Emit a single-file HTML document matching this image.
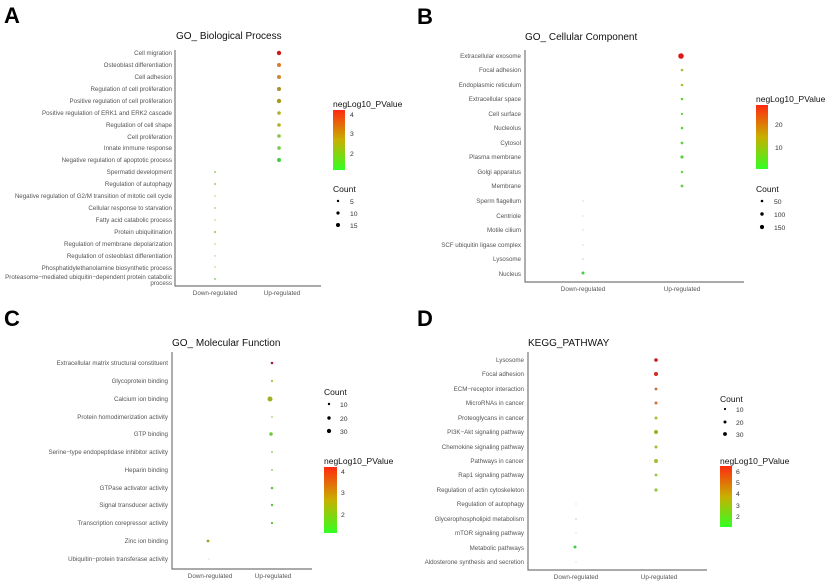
<!DOCTYPE html>
<html><head><meta charset="utf-8"><style>
body{margin:0;background:#fff}
svg{display:block;font-family:"Liberation Sans",sans-serif}
.l{font-size:6.2px;fill:#555;text-anchor:end}
.x{font-size:6.3px;fill:#555;text-anchor:middle}
.t{font-size:10px;fill:#111}
.lg{font-size:8.5px;fill:#111}
.lt{font-size:6.8px;fill:#333}
.P{font-size:22px;font-weight:bold;fill:#000}
</style></head><body>
<svg width="825" height="584" viewBox="0 0 825 584" xmlns="http://www.w3.org/2000/svg">
<defs>
<linearGradient id="g" x1="0" y1="1" x2="0" y2="0">
<stop offset="0" stop-color="#33ff22"/><stop offset="0.5" stop-color="#c8b000"/><stop offset="1" stop-color="#ff2a10"/>
</linearGradient>
</defs>
<g stroke="#777" stroke-width="1.2" fill="none">
<path d="M175 50V286H321"/><path d="M525 50V282H744"/><path d="M172 352V569H312"/><path d="M528 352V570H707"/>
</g>
<text class="P" x="4" y="23">A</text><text class="P" x="417" y="24">B</text>
<text class="P" x="4" y="326">C</text><text class="P" x="417" y="326">D</text>
<text class="t" x="176" y="39">GO_ Biological Process</text>
<text class="t" x="525" y="40">GO_ Cellular Component</text>
<text class="t" x="172" y="346">GO_ Molecular Function</text>
<text class="t" x="528" y="346">KEGG_PATHWAY</text>
<g id="A">
<text class="l" x="172" y="55">Cell migration</text>
<text class="l" x="172" y="67">Osteoblast differentiation</text>
<text class="l" x="172" y="79">Cell adhesion</text>
<text class="l" x="172" y="91">Regulation of cell proliferation</text>
<text class="l" x="172" y="103">Positive regulation of cell proliferation</text>
<text class="l" x="172" y="115">Positive regulation of ERK1 and ERK2 cascade</text>
<text class="l" x="172" y="127">Regulation of cell shape</text>
<text class="l" x="172" y="139">Cell proliferation</text>
<text class="l" x="172" y="150">Innate immune response</text>
<text class="l" x="172" y="162">Negative regulation of apoptotic process</text>
<text class="l" x="172" y="174">Spermatid development</text>
<text class="l" x="172" y="186">Regulation of autophagy</text>
<text class="l" x="172" y="198">Negative regulation of G2/M transition of mitotic cell cycle</text>
<text class="l" x="172" y="210">Cellular response to starvation</text>
<text class="l" x="172" y="222">Fatty acid catabolic process</text>
<text class="l" x="172" y="234">Protein ubiquitination</text>
<text class="l" x="172" y="246">Regulation of membrane depolarization</text>
<text class="l" x="172" y="258">Regulation of osteoblast differentiation</text>
<text class="l" x="172" y="270">Phosphatidylethanolamine biosynthetic process</text>
<text class="l" x="172" y="279">Proteasome−mediated ubiquitin−dependent protein catabolic</text>
<text class="l" x="172" y="285">process</text>
<circle cx="279" cy="53" r="2.2" fill="#cc1a1a"/><circle cx="279" cy="65" r="2" fill="#d97a2a"/>
<circle cx="279" cy="77" r="2" fill="#d08a30"/><circle cx="279" cy="89" r="2" fill="#a8902a"/>
<circle cx="279" cy="101" r="2.2" fill="#a89a1a"/><circle cx="279" cy="113" r="1.8" fill="#b0b020"/>
<circle cx="279" cy="125" r="1.8" fill="#b8b020"/><circle cx="279" cy="136" r="1.8" fill="#90c040"/>
<circle cx="279" cy="148" r="1.8" fill="#70d040"/><circle cx="279" cy="160" r="2" fill="#40d040"/>
<g fill="#9bd070"><circle cx="215" cy="172" r="1"/><circle cx="215" cy="184" r="1"/><circle cx="215" cy="196" r="0.7"/><circle cx="215" cy="208" r="0.9"/><circle cx="215" cy="220" r="0.7"/><circle cx="215" cy="232" r="1.1"/><circle cx="215" cy="244" r="0.7"/><circle cx="215" cy="256" r="0.7"/><circle cx="215" cy="267" r="0.7"/><circle cx="215" cy="279" r="1"/></g>
<text class="x" x="215" y="295">Down-regulated</text><text class="x" x="282" y="295">Up-regulated</text>
<text class="lg" x="333" y="107">negLog10_PValue</text>
<rect x="333" y="110" width="12" height="60" fill="url(#g)"/>
<text class="lt" x="350" y="117">4</text><text class="lt" x="350" y="136">3</text><text class="lt" x="350" y="156">2</text>
<text class="lg" x="333" y="192">Count</text>
<circle cx="338" cy="201" r="1.2"/><circle cx="338" cy="213" r="1.6"/><circle cx="338" cy="225" r="2"/>
<text class="lt" x="350" y="204">5</text><text class="lt" x="350" y="216">10</text><text class="lt" x="350" y="228">15</text>
</g>
<g id="B">
<text class="l" x="521" y="58">Extracellular exosome</text>
<text class="l" x="521" y="72">Focal adhesion</text>
<text class="l" x="521" y="87">Endoplasmic reticulum</text>
<text class="l" x="521" y="101">Extracellular space</text>
<text class="l" x="521" y="116">Cell surface</text>
<text class="l" x="521" y="130">Nucleolus</text>
<text class="l" x="521" y="145">Cytosol</text>
<text class="l" x="521" y="159">Plasma membrane</text>
<text class="l" x="521" y="174">Golgi apparatus</text>
<text class="l" x="521" y="188">Membrane</text>
<text class="l" x="521" y="203">Sperm flagellum</text>
<text class="l" x="521" y="218">Centriole</text>
<text class="l" x="521" y="232">Motile cilium</text>
<text class="l" x="521" y="247">SCF ubiquitin ligase complex</text>
<text class="l" x="521" y="261">Lysosome</text>
<text class="l" x="521" y="276">Nucleus</text>
<circle cx="681" cy="56" r="2.8" fill="#dd1a1a"/>
<g fill="#a0c030"><circle cx="682" cy="70" r="1.3"/><circle cx="682" cy="85" r="1.3"/></g>
<g fill="#60d040"><circle cx="682" cy="99" r="1.3"/><circle cx="682" cy="114" r="1.1"/><circle cx="682" cy="128" r="1.3"/><circle cx="682" cy="143" r="1.4"/><circle cx="682" cy="157" r="1.6"/><circle cx="682" cy="172" r="1.2"/><circle cx="682" cy="186" r="1.4"/></g>
<g fill="#a8e090"><circle cx="583" cy="201" r="0.6"/><circle cx="583" cy="216" r="0.6"/><circle cx="583" cy="230" r="0.6"/><circle cx="583" cy="245" r="0.6"/><circle cx="583" cy="259" r="0.7"/></g>
<circle cx="583" cy="273" r="1.5" fill="#40d040"/>
<text class="x" x="583" y="291">Down-regulated</text><text class="x" x="682" y="291">Up-regulated</text>
<text class="lg" x="756" y="102">negLog10_PValue</text>
<rect x="756" y="105" width="12" height="64" fill="url(#g)"/>
<text class="lt" x="775" y="127">20</text><text class="lt" x="775" y="150">10</text>
<text class="lg" x="756" y="192">Count</text>
<circle cx="762" cy="201" r="1.3"/><circle cx="762" cy="214" r="1.7"/><circle cx="762" cy="227" r="2.1"/>
<text class="lt" x="774" y="204">50</text><text class="lt" x="774" y="217">100</text><text class="lt" x="774" y="230">150</text>
</g>
<g id="C">
<text class="l" x="168" y="365">Extracellular matrix structural constituent</text>
<text class="l" x="168" y="383">Glycoprotein binding</text>
<text class="l" x="168" y="401">Calcium ion binding</text>
<text class="l" x="168" y="419">Protein homodimerization activity</text>
<text class="l" x="168" y="436">GTP binding</text>
<text class="l" x="168" y="454">Serine−type endopeptidase inhibitor activity</text>
<text class="l" x="168" y="472">Heparin binding</text>
<text class="l" x="168" y="490">GTPase activator activity</text>
<text class="l" x="168" y="507">Signal transducer activity</text>
<text class="l" x="168" y="525">Transcription corepressor activity</text>
<text class="l" x="168" y="543">Zinc ion binding</text>
<text class="l" x="168" y="561">Ubiquitin−protein transferase activity</text>
<circle cx="272" cy="363" r="1.3" fill="#a01a40"/><circle cx="272" cy="381" r="1.1" fill="#a0c040"/>
<circle cx="270" cy="399" r="2.5" fill="#a0b020"/><circle cx="272" cy="417" r="0.9" fill="#a0d070"/>
<circle cx="271" cy="434" r="1.8" fill="#70c840"/><circle cx="272" cy="452" r="1" fill="#a0d070"/>
<circle cx="272" cy="470" r="1" fill="#a0d070"/><circle cx="272" cy="488" r="1.3" fill="#60c840"/>
<circle cx="272" cy="505" r="1.2" fill="#60c040"/><circle cx="272" cy="523" r="1.1" fill="#60b840"/>
<circle cx="208" cy="541" r="1.4" fill="#a0a020"/><circle cx="209" cy="559" r="0.6" fill="#ccc"/>
<text class="x" x="210" y="578">Down-regulated</text><text class="x" x="273" y="578">Up-regulated</text>
<text class="lg" x="324" y="395">Count</text>
<circle cx="329" cy="404" r="1.2"/><circle cx="329" cy="418" r="1.7"/><circle cx="329" cy="431" r="2.1"/>
<text class="lt" x="340" y="407">10</text><text class="lt" x="340" y="421">20</text><text class="lt" x="340" y="434">30</text>
<text class="lg" x="324" y="464">negLog10_PValue</text>
<rect x="324" y="467" width="13" height="66" fill="url(#g)"/>
<text class="lt" x="341" y="474">4</text><text class="lt" x="341" y="495">3</text><text class="lt" x="341" y="517">2</text>
</g>
<g id="D">
<text class="l" x="524" y="362">Lysosome</text>
<text class="l" x="524" y="376">Focal adhesion</text>
<text class="l" x="524" y="391">ECM−receptor interaction</text>
<text class="l" x="524" y="405">MicroRNAs in cancer</text>
<text class="l" x="524" y="420">Proteoglycans in cancer</text>
<text class="l" x="524" y="434">PI3K−Akt signaling pathway</text>
<text class="l" x="524" y="449">Chemokine signaling pathway</text>
<text class="l" x="524" y="463">Pathways in cancer</text>
<text class="l" x="524" y="477">Rap1 signaling pathway</text>
<text class="l" x="524" y="492">Regulation of actin cytoskeleton</text>
<text class="l" x="524" y="506">Regulation of autophagy</text>
<text class="l" x="524" y="521">Glycerophospholipid metabolism</text>
<text class="l" x="524" y="535">mTOR signaling pathway</text>
<text class="l" x="524" y="550">Metabolic pathways</text>
<text class="l" x="524" y="564">Aldosterone synthesis and secretion</text>
<circle cx="656" cy="360" r="1.8" fill="#cc1a1a"/><circle cx="656" cy="374" r="2" fill="#d02a1a"/>
<circle cx="656" cy="389" r="1.4" fill="#c86a3a"/><circle cx="656" cy="403" r="1.5" fill="#d07040"/>
<circle cx="656" cy="418" r="1.5" fill="#a0c030"/><circle cx="656" cy="432" r="2" fill="#a0b020"/>
<circle cx="656" cy="447" r="1.5" fill="#a0c030"/><circle cx="656" cy="461" r="2" fill="#a0c030"/>
<circle cx="656" cy="475" r="1.4" fill="#90c840"/><circle cx="656" cy="490" r="1.6" fill="#90c840"/>
<g fill="#bbb"><circle cx="576" cy="504" r="0.5"/><circle cx="576" cy="519" r="0.7"/><circle cx="576" cy="533" r="0.5"/><circle cx="576" cy="562" r="0.5"/></g>
<circle cx="575" cy="547" r="1.5" fill="#40d040"/>
<text class="x" x="576" y="579">Down-regulated</text><text class="x" x="659" y="579">Up-regulated</text>
<text class="lg" x="720" y="402">Count</text>
<circle cx="725" cy="409" r="1.1"/><circle cx="725" cy="422" r="1.5"/><circle cx="725" cy="434" r="1.9"/>
<text class="lt" x="736" y="412">10</text><text class="lt" x="736" y="425">20</text><text class="lt" x="736" y="437">30</text>
<text class="lg" x="720" y="464">negLog10_PValue</text>
<rect x="720" y="466" width="12" height="61" fill="url(#g)"/>
<text class="lt" x="736" y="474">6</text><text class="lt" x="736" y="485">5</text><text class="lt" x="736" y="496">4</text><text class="lt" x="736" y="508">3</text><text class="lt" x="736" y="519">2</text>
</g>
</svg>
</body></html>
